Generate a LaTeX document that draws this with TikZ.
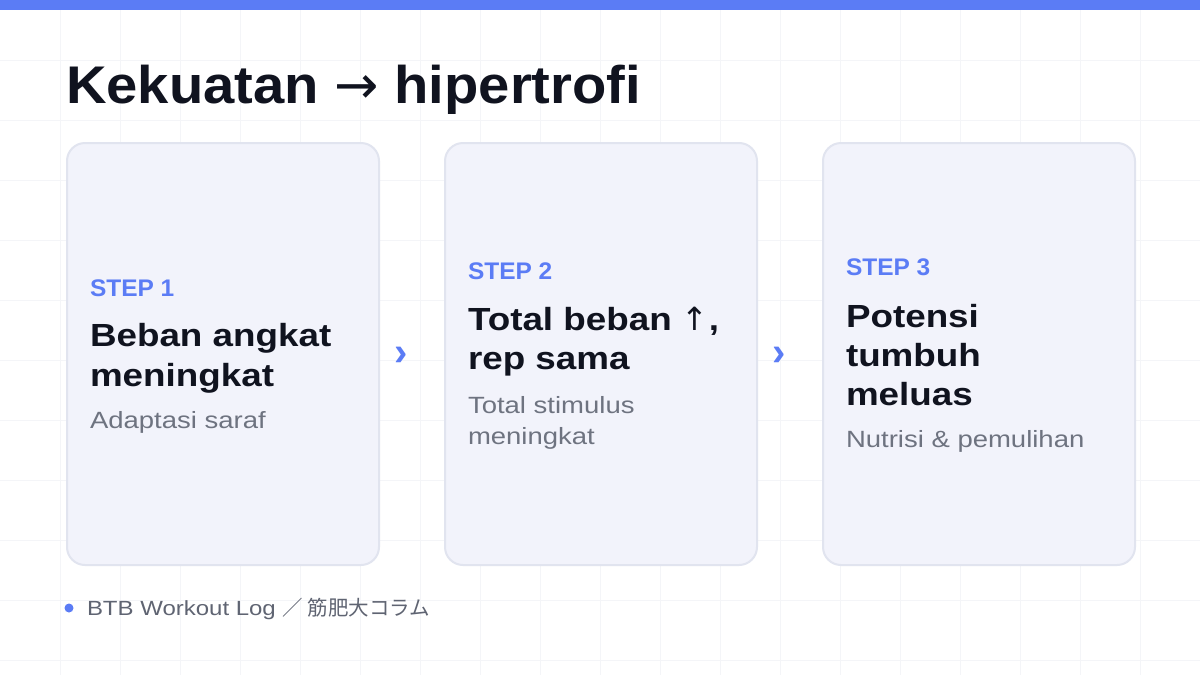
\documentclass[tikz,border=0pt]{standalone}
\usepackage{fontspec}
\setmainfont{Liberation Sans}
\newfontfamily\titlefont{Liberation Sans}[FakeStretch=1.06]
\newfontfamily\headfont{Liberation Sans}[FakeStretch=1.15]
\newfontfamily\subfont{Liberation Sans}[FakeStretch=1.17]
\newfontfamily\stepfont{Liberation Sans}[FakeStretch=1.02]
\newfontfamily\arrowfont{DejaVu Sans}
\newfontfamily\cjkfont{Noto Sans CJK JP}
\definecolor{accent}{HTML}{5B7CF5}
\definecolor{ink}{HTML}{10131F}
\definecolor{subgray}{HTML}{6E7380}
\definecolor{footgray}{HTML}{5F6472}
\definecolor{cardfill}{HTML}{F2F3FB}
\definecolor{cardline}{HTML}{E1E4EF}
\definecolor{gridline}{HTML}{F4F5F8}
\tikzset{
  card/.style={draw=cardline, line width=2pt, fill=cardfill, rounded corners=18pt,
    minimum width=312pt, minimum height=422pt, anchor=north west, inner sep=0pt},
  txt/.style={anchor=base west, inner sep=0pt, outer sep=0pt},
  steplabel/.style={txt, text=accent, font=\stepfont\fontsize{24}{28}\selectfont\bfseries},
  head/.style={txt, text=ink, font=\headfont\fontsize{32}{40}\selectfont\bfseries},
  sub/.style={txt, text=subgray, font=\subfont\fontsize{23.5}{30}\selectfont},
  chev/.style={inner sep=0pt, text=accent, font=\fontsize{40}{40}\selectfont\bfseries},
}
\begin{document}
\begin{tikzpicture}[x=1pt,y=-1pt]
\useasboundingbox (0,0) rectangle (1200,675);
\fill[white] (0,0) rectangle (1200,675);
% grid
\foreach \gx in {60,120,...,1140} \draw[gridline, line width=1pt] (\gx,0) -- (\gx,675);
\foreach \gy in {60,120,...,660} \draw[gridline, line width=1pt] (0,\gy) -- (1200,\gy);
% top bar
\fill[accent] (0,0) rectangle (1200,9.5);
% title
\node[txt, text=ink, font=\titlefont\fontsize{53}{60}\selectfont\bfseries] (title) at (66,103)
  {Kekuatan {\arrowfont\mdseries →} hipertrofi};
% cards
\node[card] (card1) at (66,142) {};
\node[card] (card2) at (444,142) {};
\node[card] (card3) at (822,142) {};
% card 1
\node[steplabel] (s1) at (90,296) {STEP 1};
\node[head] (h1a) at (90,346) {Beban angkat};
\node[head] (h1b) at (90,386) {meningkat};
\node[sub] (d1) at (90,428) {Adaptasi saraf};
% card 2
\node[steplabel] (s2) at (468,279) {STEP 2};
\node[head] (h2a) at (468,330) {Total beban {\arrowfont\mdseries ↑},};
\node[head] (h2b) at (468,369) {rep sama};
\node[sub] (d2a) at (468,413) {Total stimulus};
\node[sub] (d2b) at (468,444) {meningkat};
% card 3
\node[steplabel] (s3) at (846,275) {STEP 3};
\node[head] (h3a) at (846,327) {Potensi};
\node[head] (h3b) at (846,366) {tumbuh};
\node[head] (h3c) at (846,405) {meluas};
\node[sub] (d3) at (846,447) {Nutrisi \& pemulihan};
% chevrons
\node[chev] (c1) at (401,356) {›};
\node[chev] (c2) at (779,356) {›};
% footer
\fill[accent] (69,608) circle (4.5pt);
\node[txt, text=footgray, font=\subfont\fontsize{20.5}{24}\selectfont] (foot) at (87,615)
  {BTB Workout Log {\cjkfont ／ 筋肥大コラム}};
\end{tikzpicture}
\end{document}
